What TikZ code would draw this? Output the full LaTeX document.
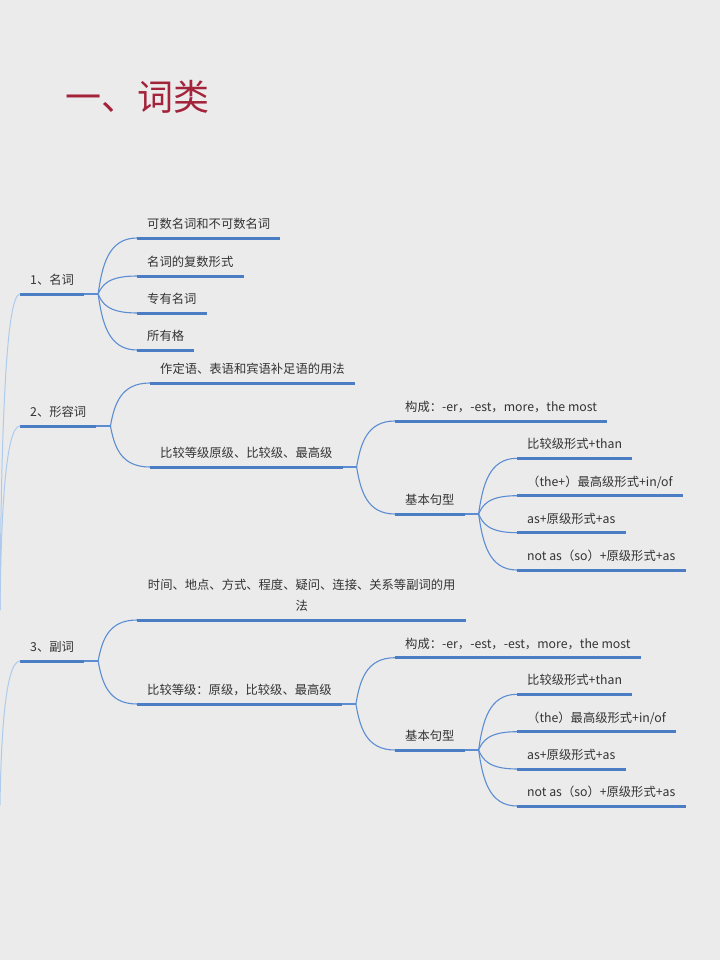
\documentclass[tikz,border=0pt]{standalone}
\usepackage{fontspec}
\setmainfont{Noto Sans CJK SC}
\usetikzlibrary{calc}
\definecolor{bg}{HTML}{EBEBEB}
\definecolor{tx}{HTML}{333333}
\definecolor{ttlred}{HTML}{A2233A}
\definecolor{ul}{HTML}{4A7DC4}
\definecolor{cn}{HTML}{5C8DD3}
\definecolor{tr}{HTML}{AECBEE}
\newcommand\mmbr[2]{\draw[conn] (#1) .. controls ($(#1)!0.5!(#1|-#2.south west)+(4,0)$) and ($(#1|-#2.south west)+(10,0)$) .. (#2.south west);}
\begin{document}
\begin{tikzpicture}[x=1pt,y=-1pt,
  topic/.style={anchor=south west, inner xsep=10pt, inner ysep=0pt, text depth=9.5pt, text=tx,
    font=\fontsize{12.3}{21}\selectfont},
  uline/.style={draw=ul, line width=3pt},
  conn/.style={draw=cn, line width=1.1pt},
  trunk/.style={draw=tr, line width=1pt},
  heading/.style={anchor=west, inner sep=0pt, text=ttlred, font=\fontsize{36}{40}\selectfont}]
\useasboundingbox (0,0) rectangle (720,960);
\fill[bg] (0,0) rectangle (720,960);

\node[heading] (title) at (65,97) {一、词类};

% main topics
\node[topic] (m1) at (20,294) {1、名词};
\node[topic] (m2) at (20,426) {2、形容词};
\node[topic] (m3) at (20,661) {3、副词};

% nouns
\node[topic] (a1) at (137,238) {可数名词和不可数名词};
\node[topic] (a2) at (137,276) {名词的复数形式};
\node[topic] (a3) at (137,313) {专有名词};
\node[topic] (a4) at (137,350) {所有格};

% adjectives
\node[topic] (b1) at (150,383) {作定语、表语和宾语补足语的用法};
\node[topic] (b2) at (150,467) {比较等级原级、比较级、最高级};
\node[topic] (c1) at (395,421) {构成：-er，-est，more，the most};
\node[topic] (c2) at (395,514) {基本句型};
\node[topic] (d1) at (517,458.3) {比较级形式+than};
\node[topic] (d2) at (517,495.7) {（the+）最高级形式+in/of};
\node[topic] (d3) at (517,532.7) {as+原级形式+as};
\node[topic] (d4) at (517,570) {not as（so）+原级形式+as};

% adverbs
\node[topic] (e1) at (137,620) {\parbox[b]{309pt}{\centering 时间、地点、方式、程度、疑问、连接、关系等副词的用\\法}};
\node[topic] (e2) at (137,704) {比较等级：原级，比较级、最高级};
\node[topic] (f1) at (395,657.7) {构成：-er，-est，-est，more，the most};
\node[topic] (f2) at (395,750) {基本句型};
\node[topic] (g1) at (517,694.3) {比较级形式+than};
\node[topic] (g2) at (517,731.7) {（the）最高级形式+in/of};
\node[topic] (g3) at (517,769) {as+原级形式+as};
\node[topic] (g4) at (517,806) {not as（so）+原级形式+as};

% underlines
\foreach \n in {m1,m2,m3,a1,a2,a3,a4,b1,b2,c1,c2,d1,d2,d3,d4,e1,e2,f1,f2,g1,g2,g3,g4}
  \draw[uline] (\n.south west) -- (\n.south east);

% junctions
\foreach \p in {m1,m2,m3,b2,c2,e2,f2}
  \coordinate (j\p) at ($(\p.south east)+(14,0)$);
\foreach \p in {m1,m2,m3,b2,c2,e2,f2}
  \draw[conn] (\p.south east) -- (j\p);

% branches
\mmbr{jm1}{a1} \mmbr{jm1}{a2} \mmbr{jm1}{a3} \mmbr{jm1}{a4}
\mmbr{jm2}{b1} \mmbr{jm2}{b2}
\mmbr{jb2}{c1} \mmbr{jb2}{c2}
\mmbr{jc2}{d1} \mmbr{jc2}{d2} \mmbr{jc2}{d3} \mmbr{jc2}{d4}
\mmbr{jm3}{e1} \mmbr{jm3}{e2}
\mmbr{je2}{f1} \mmbr{je2}{f2}
\mmbr{jf2}{g1} \mmbr{jf2}{g2} \mmbr{jf2}{g3} \mmbr{jf2}{g4}

% trunk curves from the off-page root
\coordinate (L1) at (0,610);
\coordinate (L3) at (0,805);
\draw[trunk] (L1) .. controls (1,450) and (5,294) .. (m1.south west);
\draw[trunk] (L1) .. controls (1,520) and (5,426) .. (m2.south west);
\draw[trunk] (L3) .. controls (1,740) and (5,661) .. (m3.south west);
\end{tikzpicture}
\end{document}
